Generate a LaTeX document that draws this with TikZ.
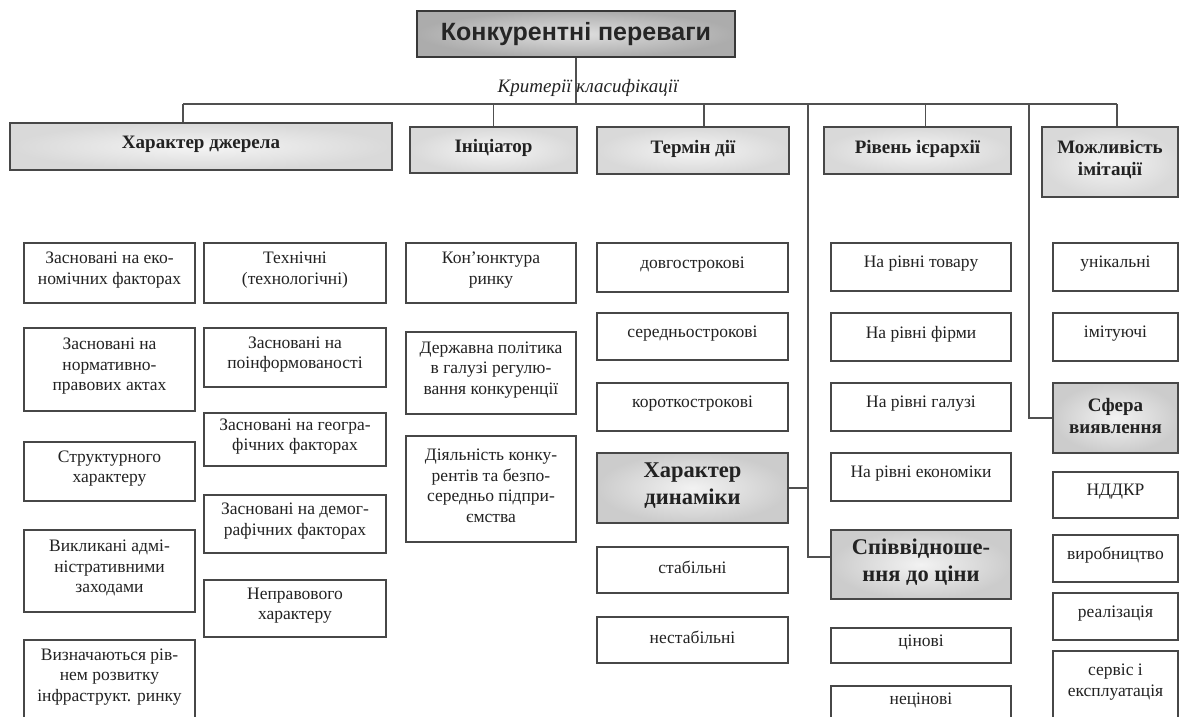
\documentclass[tikz,border=0pt]{standalone}
\usepackage{fontspec}
\setmainfont{Liberation Serif}
\newfontfamily\titlesans{Liberation Sans}
\usetikzlibrary{shadows}
\definecolor{ink}{HTML}{222222}
\definecolor{linec}{HTML}{505050}
\newcommand\bx[8]{%
  \pgfmathsetmacro\bxw{#4-#2}\pgfmathsetmacro\bxh{#5-#3}%
  \pgfmathsetmacro\bxx{(#2+#4)/2}\pgfmathsetmacro\bxy{(#3+#5)/2}%
  \node[#6, minimum width=\bxw pt, minimum height=\bxh pt] (#1) at (\bxx,\bxy) {};
  \node[#7] (#1-t) at (#1.center) {#8};}
\begin{document}
\begin{tikzpicture}[x=1pt,y=-1pt,
  conn/.style={draw=linec, line width=1.3pt},
  base/.style={draw=black!72, line width=1.2pt, inner sep=0pt,
    drop shadow={opacity=0.18, shadow xshift=1.2pt, shadow yshift=-1.2pt}},
  item/.style={base, fill=white},
  itxt/.style={align=center, text=ink, inner sep=0pt, yshift=3pt, font=\fontsize{17.5}{20.5}\selectfont},
  head/.style={base, inner color=gray!8, outer color=gray!30},
  htxt/.style={align=center, text=ink, inner sep=0pt, yshift=2pt, font=\bfseries\fontsize{19}{22}\selectfont},
  subhead/.style={base, inner color=gray!10, outer color=gray!40},
  titlebox/.style={base, draw=black!78, inner color=gray!25, outer color=gray!65},
  ttxt/.style={text=black!85, inner sep=0pt, font=\titlesans\bfseries\fontsize{25}{28}\selectfont}
]
\clip (0,0) rectangle (1180,717);
\fill[white] (0,0) rectangle (1180,717);

% title
\bx{title}{417}{11}{735}{57}{titlebox}{ttxt}{Конкурентні переваги}
\node[font=\itshape\fontsize{19}{21}\selectfont, text=ink] (crit) at (588,88) {Критерії класифікації};

% level 1
\bx{src}{10}{123}{392}{170}{head}{htxt}{Характер джерела}
\bx{ini}{410}{127}{577}{173}{head}{htxt}{Ініціатор}
\bx{term}{597}{127}{789}{174}{head}{htxt}{Термін дії}
\bx{lvl}{824}{127}{1011}{174}{head}{htxt}{Рівень ієрархії}
\bx{imit}{1042}{127}{1178}{197}{head}{htxt}{Можливість\\імітації}

% source column A
\bx{a1}{24}{243}{195}{303}{item}{itxt}{Засновані на еко-\\номічних факторах}
\bx{a2}{24}{328}{195}{411}{item}{itxt}{Засновані на\\нормативно-\\правових актах}
\bx{a3}{24}{442}{195}{501}{item}{itxt}{Структурного\\характеру}
\bx{a4}{24}{530}{195}{612}{item}{itxt}{Викликані адмі-\\ністративними\\заходами}
\bx{a5}{24}{640}{195}{720}{item}{itxt}{Визначаються рів-\\нем розвитку\\інфраструкт. ринку}
% source column B
\bx{b1}{204}{243}{386}{303}{item}{itxt}{Технічні\\(технологічні)}
\bx{b2}{204}{328}{386}{387}{item}{itxt}{Засновані на\\поінформованості}
\bx{b3}{204}{413}{386}{466}{item}{itxt}{Засновані на геогра-\\фічних факторах}
\bx{b4}{204}{495}{386}{553}{item}{itxt}{Засновані на демог-\\рафічних факторах}
\bx{b5}{204}{580}{386}{637}{item}{itxt}{Неправового\\характеру}

% initiator
\bx{i1}{406}{243}{576}{303}{item}{itxt}{Кон’юнктура\\ринку}
\bx{i2}{406}{332}{576}{414}{item}{itxt}{Державна політика\\в галузі регулю-\\вання конкуренції}
\bx{i3}{406}{436}{576}{542}{item}{itxt}{Діяльність конку-\\рентів та безпо-\\середньо підпри-\\ємства}

% term
\bx{t1}{597}{243}{788}{292}{item}{itxt}{довгострокові}
\bx{t2}{597}{313}{788}{360}{item}{itxt}{середньострокові}
\bx{t3}{597}{383}{788}{431}{item}{itxt}{короткострокові}
\bx{dyn}{597}{453}{788}{523}{subhead}{htxt,font=\bfseries\fontsize{22.5}{27}\selectfont}{Характер\\динаміки}
\bx{t4}{597}{547}{788}{593}{item}{itxt}{стабільні}
\bx{t5}{597}{617}{788}{663}{item}{itxt}{нестабільні}

% level
\bx{r1}{831}{243}{1011}{291}{item}{itxt}{На рівні товару}
\bx{r2}{831}{313}{1011}{361}{item}{itxt}{На рівні фірми}
\bx{r3}{831}{383}{1011}{431}{item}{itxt}{На рівні галузі}
\bx{r4}{831}{453}{1011}{501}{item}{itxt}{На рівні економіки}
\bx{spiv}{831}{530}{1011}{599}{subhead}{htxt,font=\bfseries\fontsize{22.5}{27}\selectfont}{Співвідноше-\\ння до ціни}
\bx{r5}{831}{628}{1011}{663}{item}{itxt}{цінові}
\bx{r6}{831}{686}{1011}{721}{item}{itxt}{нецінові}

% imitation / sphere
\bx{m1}{1053}{243}{1178}{291}{item}{itxt}{унікальні}
\bx{m2}{1053}{313}{1178}{361}{item}{itxt}{імітуючі}
\bx{sfera}{1053}{383}{1178}{453}{subhead}{htxt,font=\bfseries\fontsize{19}{22}\selectfont}{Сфера\\виявлення}
\bx{m3}{1053}{472}{1178}{518}{item}{itxt}{НДДКР}
\bx{m4}{1053}{535}{1178}{582}{item}{itxt}{виробництво}
\bx{m5}{1053}{593}{1178}{640}{item}{itxt}{реалізація}
\bx{m6}{1053}{651}{1178}{719}{item}{itxt}{сервіс і\\експлуатація}

% connectors
\coordinate (busL) at (183,104);
\coordinate (busR) at (1117,104);
\coordinate (l1) at (808,104);
\coordinate (l2) at (1029,104);
\draw[conn] (busL) -- (busR);
\draw[conn] (title.south) -- (title.south |- busL);
\draw[conn] (busL) -- (busL |- src.north);
\draw[conn] (ini.north) -- (ini.north |- busL);
\draw[conn] ([xshift=11pt]term.north) -- ([xshift=11pt]term.north |- busL);
\draw[conn] ([xshift=8pt]lvl.north) -- ([xshift=8pt]lvl.north |- busL);
\draw[conn] (busR) -- (busR |- imit.north);
\draw[conn] (l1) |- ([yshift=7.5pt]spiv.west);
\draw[conn] (dyn.east) -- (dyn.east -| l1);
\draw[conn] (l2) |- (sfera.west);
\end{tikzpicture}
\end{document}
